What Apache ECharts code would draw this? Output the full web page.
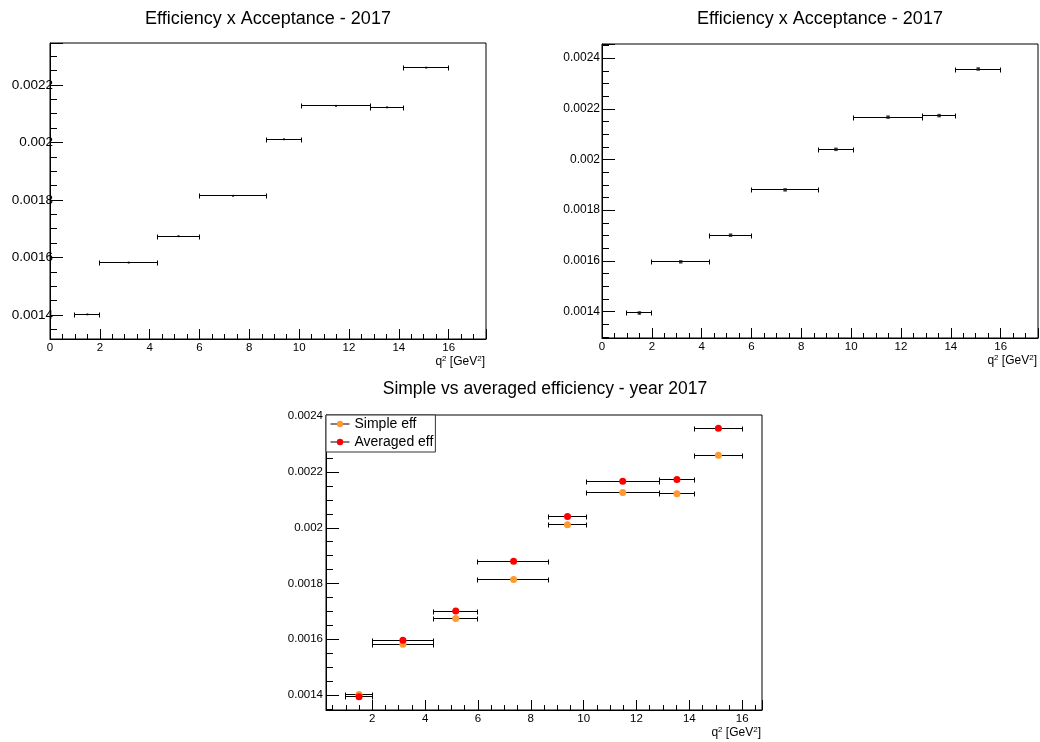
<!DOCTYPE html>
<html>
<head>
<meta charset="utf-8">
<title>Efficiency x Acceptance - 2017</title>
<script src="https://cdn.jsdelivr.net/npm/echarts@6/dist/echarts.min.js"></script>
<style>
  html, body { margin: 0; padding: 0; background: #fff; }
  #chart { width: 1040px; height: 742px; }
</style>
</head>
<body>
<div id="chart"></div>
<script>
// q^2 bins [GeV^2]
const binLow    = [1.0, 2.0, 4.3, 6.0, 8.68, 10.09, 12.86, 14.18];
const binHigh   = [2.0, 4.3, 6.0, 8.68, 10.09, 12.86, 14.18, 16.0];
const binCentre = [1.50, 3.16, 5.16, 7.35, 9.39, 11.48, 13.53, 15.10];

// efficiency x acceptance, 2017
const simpleEff   = [0.001402, 0.001582, 0.001674, 0.001814, 0.002011, 0.002127, 0.002122, 0.002260];
const averagedEff = [0.001394, 0.001596, 0.001701, 0.001880, 0.002040, 0.002167, 0.002173, 0.002357];
const averagedErr = [0.000005, 0.000002, 0.000002, 0.000002, 0.000002, 0.000002, 0.000004, 0.000002];

// axis labels
const xAxisTitle = 'q{sup|2} [GeV{sup|2}]';
const padTitle = 'Efficiency x Acceptance - 2017';
const compareTitle = 'Simple vs averaged efficiency - year 2017';
const seriesNames = ['Simple eff', 'Averaged eff'];

const FONT = '"Liberation Sans", Arial, Helvetica, sans-serif';

function rows(values, errors) {
  return binCentre.map((c, i) => [c, binLow[i], binHigh[i], values[i], errors ? errors[i] : 0]);
}
function points(values) {
  return binCentre.map((c, i) => [c, values[i]]);
}

function crisp(v) { return Math.round(v - 0.5) + 0.5; }

// horizontal bin-width bars with end caps, plus vertical errors when present
function renderErrorBars(params, api) {
  const y = api.value(3);
  const l = api.coord([api.value(1), y]);
  const r = api.coord([api.value(2), y]);
  const yy = crisp(l[1]);
  const x1 = crisp(l[0]), x2 = crisp(r[0]);
  const style = { stroke: '#000', lineWidth: 1 };
  const cap = 2;
  const children = [
    { type: 'line', shape: { x1: x1, y1: yy, x2: x2, y2: yy }, style: style },
    { type: 'line', shape: { x1: x1, y1: yy - cap, x2: x1, y2: yy + cap + 1 }, style: style },
    { type: 'line', shape: { x1: x2, y1: yy - cap, x2: x2, y2: yy + cap + 1 }, style: style }
  ];
  const err = api.value(4);
  if (err > 0) {
    const c = api.value(0);
    const t = api.coord([c, y + err]);
    const b = api.coord([c, y - err]);
    const xc = crisp(t[0]);
    children.push({ type: 'line', shape: { x1: xc, y1: t[1], x2: xc, y2: b[1] }, style: style });
  }
  return { type: 'group', children: children };
}

function xAxisFor(gridIndex, min, max, splitNumber, showMin) {
  return {
    type: 'value', gridIndex: gridIndex, min: min, max: max, splitNumber: splitNumber,
    name: xAxisTitle, nameLocation: 'end', nameGap: -1, nameMoveOverlap: false,
    nameTextStyle: {
      fontFamily: FONT, fontSize: 12, color: '#000', align: 'right', verticalAlign: 'top',
      padding: [16, 0, 0, 0], lineHeight: 14,
      rich: { sup: { fontFamily: FONT, fontSize: 8, color: '#000', verticalAlign: 'top', lineHeight: 10 } }
    },
    axisLine: { show: true, onZero: false, lineStyle: { color: '#000', width: 1 } },
    axisTick: { show: true, inside: true, length: 10, lineStyle: { color: '#000', width: 1 } },
    minorTick: { show: true, splitNumber: 4, length: 5, lineStyle: { color: '#000', width: 1 } },
    splitLine: { show: false },
    axisLabel: { fontFamily: FONT, fontSize: 11.5, color: '#000', margin: 3,
                 showMinLabel: showMin, showMaxLabel: false }
  };
}

function yAxisFor(gridIndex, min, max, labelSize, margin) {
  return {
    type: 'value', gridIndex: gridIndex, min: min, max: max, splitNumber: 5,
    axisLine: { show: true, onZero: false, lineStyle: { color: '#000', width: 1 } },
    axisTick: { show: true, inside: true, length: 13, lineStyle: { color: '#000', width: 1 } },
    minorTick: { show: true, splitNumber: 4, length: 7, lineStyle: { color: '#000', width: 1 } },
    splitLine: { show: false },
    axisLabel: { fontFamily: FONT, fontSize: labelSize, color: '#000', margin: margin,
                 showMinLabel: false, showMaxLabel: false }
  };
}

const frame = {
  show: true, borderColor: '#000', borderWidth: 1, backgroundColor: 'transparent',
  containLabel: false, outerBoundsMode: 'none'
};

const chart = echarts.init(document.getElementById('chart'), null, { renderer: 'canvas' });

chart.setOption({
  animation: false,
  backgroundColor: '#fff',
  textStyle: { fontFamily: FONT },
  title: [
    { text: padTitle, left: 268, top: 10, textAlign: 'center', padding: 0,
      textStyle: { fontFamily: FONT, fontSize: 18, fontWeight: 'normal', color: '#000' } },
    { text: padTitle, left: 820, top: 10, textAlign: 'center', padding: 0,
      textStyle: { fontFamily: FONT, fontSize: 18, fontWeight: 'normal', color: '#000' } },
    { text: compareTitle, left: 545, top: 380, textAlign: 'center', padding: 0,
      textStyle: { fontFamily: FONT, fontSize: 17.5, fontWeight: 'normal', color: '#000' } }
  ],
  grid: [
    Object.assign({ left: 50, top: 43, width: 436, height: 296 }, frame),
    Object.assign({ left: 602, top: 44, width: 436, height: 294 }, frame),
    Object.assign({ left: 326, top: 415, width: 436, height: 295 }, frame)
  ],
  xAxis: [
    xAxisFor(0, 0, 17.5, 9, true),
    xAxisFor(1, 0, 17.5, 9, true),
    xAxisFor(2, 0.25, 16.75, 8, false)
  ],
  yAxis: [
    yAxisFor(0, 0.0013162, 0.0023458, 13.5, -3),
    yAxisFor(1, 0.0012953, 0.0024557, 12, 2),
    yAxisFor(2, 0.0013460, 0.0024047, 11.5, 3)
  ],
  legend: {
    orient: 'vertical', left: 326, top: 415,
    data: seriesNames,
    backgroundColor: '#fff', borderColor: '#333', borderWidth: 1, borderRadius: 0,
    padding: [1, 2, 2, 4], itemGap: 2, itemWidth: 19, itemHeight: 8,
    textStyle: { fontFamily: FONT, fontSize: 14, color: '#000', lineHeight: 16 },
    lineStyle: { color: '#000', width: 1, opacity: 1, type: 'solid' },
    selectedMode: false
  },
  series: [
    // pad 1: simple efficiency
    { type: 'custom', name: 'simple bins', xAxisIndex: 0, yAxisIndex: 0,
      renderItem: renderErrorBars, encode: { x: [0, 1, 2], y: 3 }, data: rows(simpleEff) },
    { type: 'scatter', name: 'simple centres', xAxisIndex: 0, yAxisIndex: 0,
      symbol: 'rect', symbolSize: 2, itemStyle: { color: '#000' }, data: points(simpleEff) },

    // pad 2: averaged efficiency
    { type: 'custom', name: 'averaged bins', xAxisIndex: 1, yAxisIndex: 1,
      renderItem: renderErrorBars, encode: { x: [0, 1, 2], y: 3 }, data: rows(averagedEff, averagedErr) },
    { type: 'scatter', name: 'averaged centres', xAxisIndex: 1, yAxisIndex: 1,
      symbol: 'rect', symbolSize: 3.5, itemStyle: { color: '#111' }, data: points(averagedEff) },

    // pad 3: comparison
    { type: 'custom', name: 'simple bins cmp', xAxisIndex: 2, yAxisIndex: 2,
      renderItem: renderErrorBars, encode: { x: [0, 1, 2], y: 3 }, data: rows(simpleEff) },
    { type: 'line', name: seriesNames[0], xAxisIndex: 2, yAxisIndex: 2,
      symbol: 'circle', symbolSize: 7, showSymbol: true, showAllSymbol: true,
      lineStyle: { width: 0, opacity: 0 }, itemStyle: { color: '#ff9a33', borderWidth: 0 },
      emphasis: { disabled: true }, data: points(simpleEff) },
    { type: 'custom', name: 'averaged bins cmp', xAxisIndex: 2, yAxisIndex: 2,
      renderItem: renderErrorBars, encode: { x: [0, 1, 2], y: 3 }, data: rows(averagedEff, averagedErr) },
    { type: 'line', name: seriesNames[1], xAxisIndex: 2, yAxisIndex: 2,
      symbol: 'circle', symbolSize: 7, showSymbol: true, showAllSymbol: true,
      lineStyle: { width: 0, opacity: 0 }, itemStyle: { color: '#ff0000', borderWidth: 0 },
      emphasis: { disabled: true }, data: points(averagedEff) }
  ]
});
</script>
</body>
</html>
